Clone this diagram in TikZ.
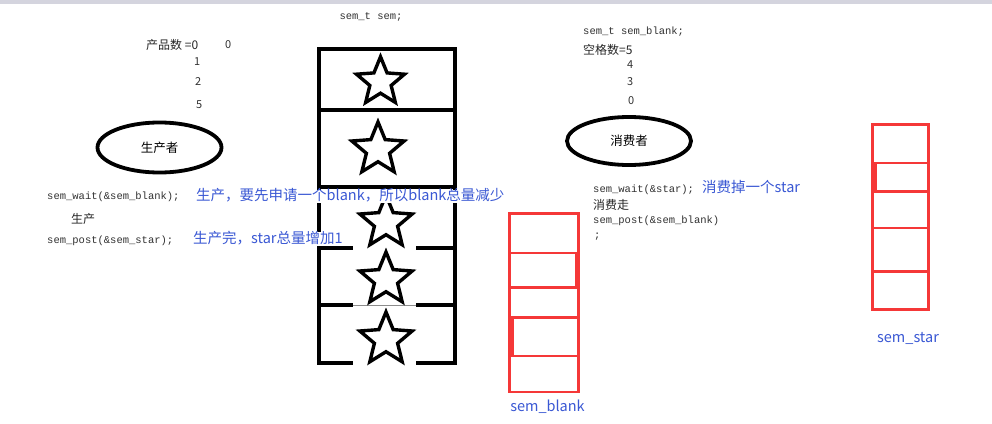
\documentclass[tikz,border=0pt]{standalone}
\usepackage{fontspec}
\setmainfont{Noto Sans CJK SC}
\newfontfamily\cjk{Noto Sans CJK SC}
\newfontfamily\codefont{Liberation Mono}
\usetikzlibrary{shapes.geometric}
\definecolor{noteblue}{RGB}{58,88,212}
\definecolor{boxred}{RGB}{245,56,56}
\definecolor{codegray}{RGB}{50,50,50}
\definecolor{topbar}{RGB}{212,212,222}
\tikzset{
  x=1pt, y=-1pt,
  code/.style={anchor=west, inner sep=0pt, text=codegray, font=\codefont\fontsize{10.5}{12}\selectfont},
  digit/.style={anchor=west, inner sep=0pt, text=codegray, font=\cjk\fontsize{11}{13}\selectfont},
  cjktext/.style={anchor=west, inner sep=0pt, text=black!85, font=\cjk\fontsize{12}{14}\selectfont},
  note/.style={anchor=west, inner sep=0pt, text height=11pt, text depth=2.5pt, fill=white, text=noteblue, font=\cjk\fontsize{14.5}{16}\selectfont},
  role/.style={ellipse, draw=black, line width=3.8pt, inner sep=0pt, font=\cjk\fontsize{12.5}{14}\selectfont},
  cellstar/.style={star, star points=5, star point ratio=2.25, draw=black, line width=3.4pt, inner sep=0pt},
  blackline/.style={draw=black, line width=4pt},
  redline/.style={draw=boxred, line width=2.8pt},
}
\begin{document}
\begin{tikzpicture}
\useasboundingbox (0,0) rectangle (992,423);
\fill[white] (0,0) rectangle (992,423);
\fill[topbar] (0,0) rectangle (992,4);

% ---------- producer ----------
\node[cjktext] (pcount) at (146,45) {产品数 =0};
\node[digit] (p0b) at (225,45) {0};
\node[digit] (p1) at (194,62) {1};
\node[digit] (p2) at (195,82) {2};
\node[digit] (p5) at (196,105) {5};
\node[role, minimum width=124, minimum height=50] (producer) at (159.5,147.5) {生产者};
\node[code] (pwait) at (47,197) {sem\_wait(\&sem\_blank);};
\node[cjktext] (pprod) at (71,219) {生产};
\node[code] (ppost) at (47,241) {sem\_post(\&sem\_star);};

% ---------- buffer ----------
\node[code, anchor=center] (semt) at (371,17) {sem\_t sem;};
\draw[blackline] (319,49) rectangle (455,110);
\draw[blackline] (319,110) rectangle (455,187);
\draw[blackline] (319,187) -- (319,363);
\draw[blackline] (455,187) -- (455,363);
\draw[blackline] (319,248) -- (353,248) (416,248) -- (455,248);
\draw[blackline] (319,305) -- (353,305) (416,305) -- (455,305);
\draw[black!45, line width=0.6pt] (353,305) -- (416,305);
\draw[blackline] (317,363) -- (353,363) (416,363) -- (457,363);
\node[cellstar, minimum size=50.5] (s1) at (380.5,82) {};
\node[cellstar, minimum size=55] (s2) at (378,149.5) {};
\node[cellstar, minimum size=55] (s3) at (386,222.5) {};
\node[cellstar, minimum size=55] (s4) at (386,279.5) {};
\node[cellstar, minimum size=55] (s5) at (386,339.5) {};

% producer notes, over the buffer
\node[note] (pnote1) at (196,196.5) {生产，要先申请一个blank，所以blank总量减少};
\node[note] (pnote2) at (193,239) {生产完，star总量增加1};

% ---------- consumer ----------
\node[code] (cblank) at (583,32) {sem\_t sem\_blank;};
\node[cjktext] (ccount) at (583,50) {空格数=5};
\node[digit] (c4) at (627,65) {4};
\node[digit] (c3) at (627,82) {3};
\node[digit] (c0) at (628,101) {0};
\node[role, minimum width=124, minimum height=48] (consumer) at (629,141) {消费者};
\node[code] (cwait) at (593,190) {sem\_wait(\&star);};
\node[note] (cnote) at (702,188) {消费掉一个star};
\node[cjktext] (cgo) at (593,205) {消费走};
\node[code] (cpost) at (593,221) {sem\_post(\&sem\_blank)};
\node[code] (csemi) at (594,237) {;};

% ---------- sem_blank ----------
\draw[redline] (509.7,213.7) rectangle (578.2,392);
\draw[redline] (509.7,253) -- (578.2,253);
\draw[redline] (509.7,287.3) -- (578.2,287.3);
\draw[redline] (509.7,317.3) -- (578.2,317.3);
\draw[redline] (509.7,356) -- (578.2,356);
\draw[redline] (576,253) -- (576,287.3);
\draw[redline] (512.5,317.3) -- (512.5,356);
\node[note, anchor=center, fill=none] (lblank) at (547.5,407) {sem\_blank};

% ---------- sem_star ----------
\draw[redline] (872.8,124.5) rectangle (928.5,309.5);
\draw[redline] (872.8,163) -- (928.5,163);
\draw[redline] (872.8,191.2) -- (928.5,191.2);
\draw[redline] (872.8,228) -- (928.5,228);
\draw[redline] (872.8,271.5) -- (928.5,271.5);
\draw[redline] (875.5,163) -- (875.5,191.2);
\node[note, anchor=center, fill=none] (lstar) at (908,338) {sem\_star};
\end{tikzpicture}
\end{document}
